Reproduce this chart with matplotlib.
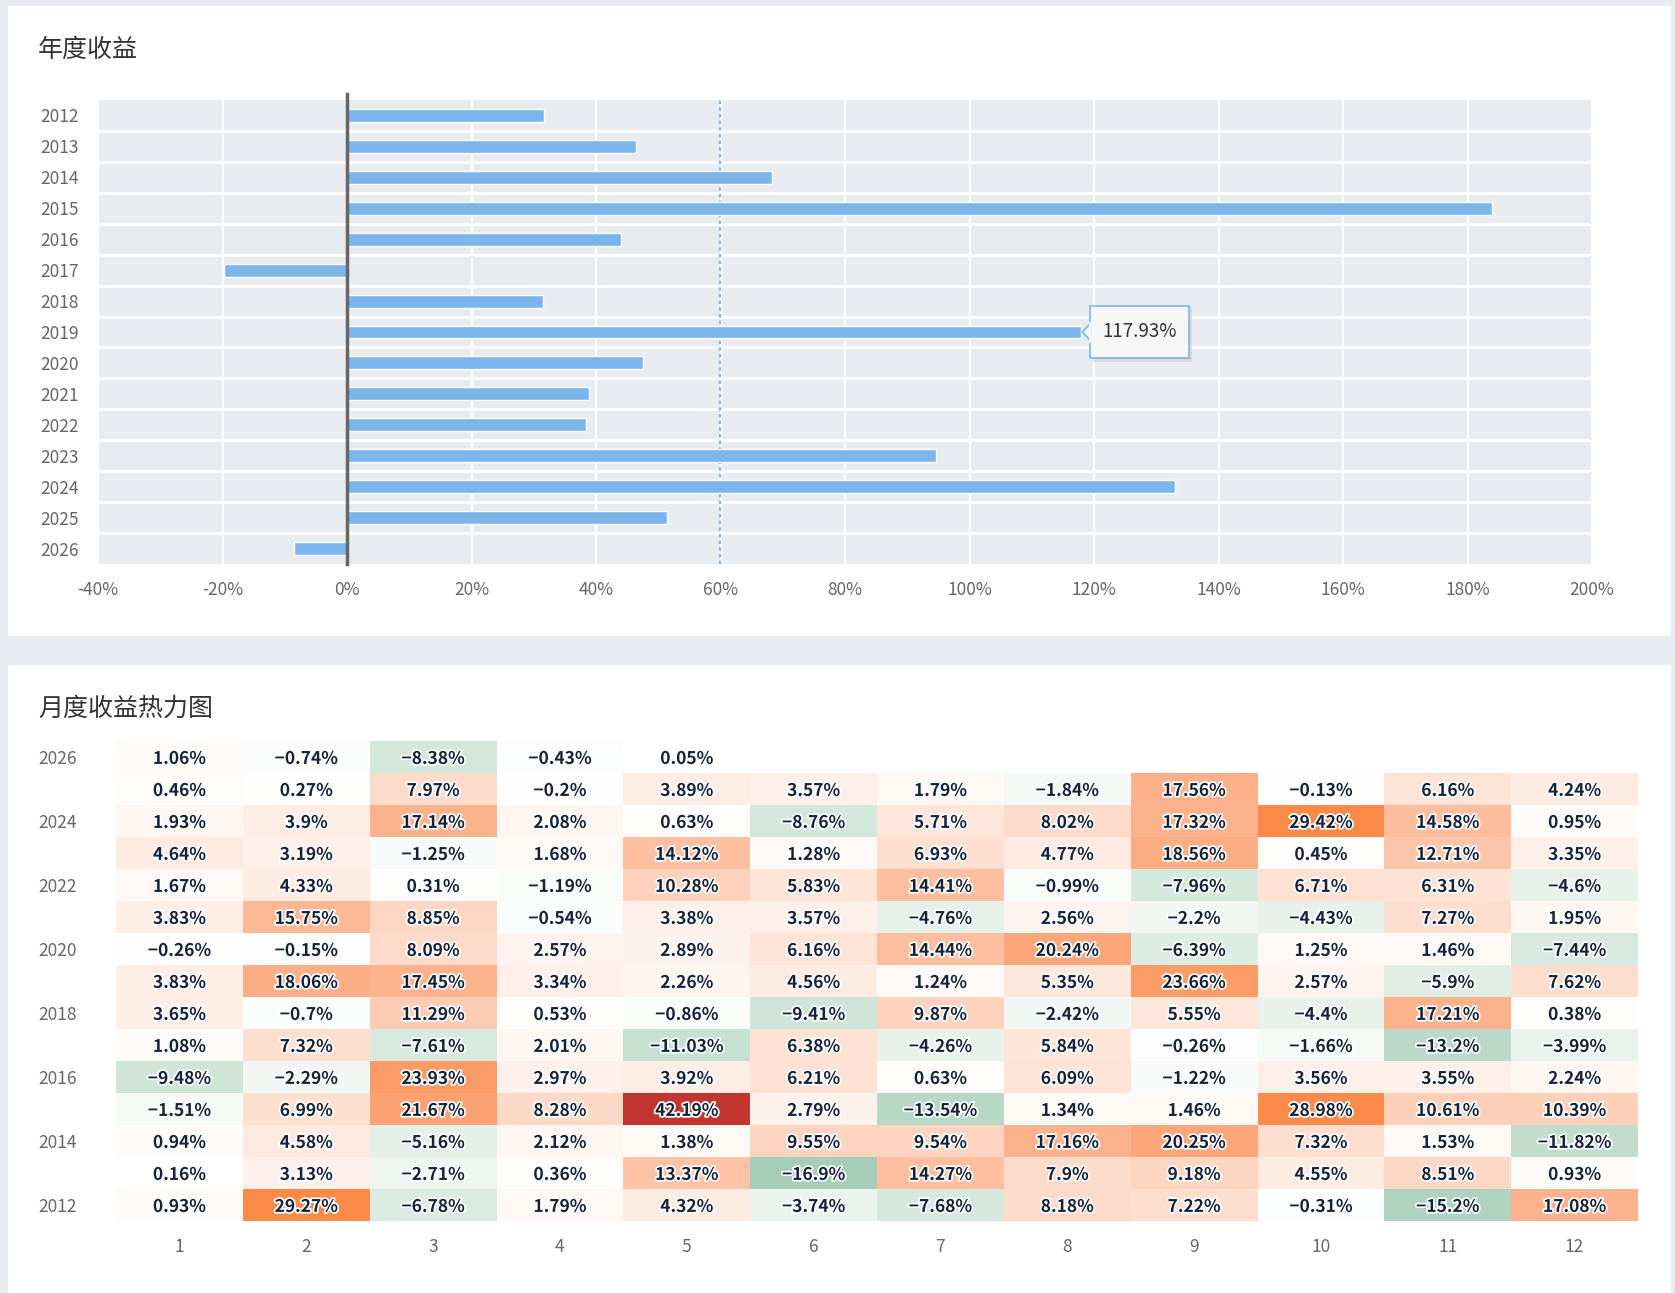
import numpy as np
import matplotlib
matplotlib.use("Agg")
import matplotlib.pyplot as plt
from matplotlib.colors import LinearSegmentedColormap, Normalize
from matplotlib.patches import Rectangle, FancyBboxPatch, Polygon
import matplotlib.patheffects as pe

plt.rcParams['font.family'] = ['Noto Sans CJK SC', 'DejaVu Sans']

# ---- data ----
years = [2012, 2013, 2014, 2015, 2016, 2017, 2018, 2019, 2020, 2021, 2022, 2023, 2024, 2025, 2026]
annual = [31.7, 46.4, 68.3, 184.0, 44.0, -19.8, 31.5, 117.93, 47.5, 38.9, 38.4, 94.6, 133.0, 51.4, -8.44]
tooltip_year = 2019

months = list(range(1, 13))
nan = np.nan
m2012 = [0.93, 29.27, -6.78, 1.79, 4.32, -3.74, -7.68, 8.18, 7.22, -0.31, -15.2, 17.08]
m2013 = [0.16, 3.13, -2.71, 0.36, 13.37, -16.9, 14.27, 7.9, 9.18, 4.55, 8.51, 0.93]
m2014 = [0.94, 4.58, -5.16, 2.12, 1.38, 9.55, 9.54, 17.16, 20.25, 7.32, 1.53, -11.82]
m2015 = [-1.51, 6.99, 21.67, 8.28, 42.19, 2.79, -13.54, 1.34, 1.46, 28.98, 10.61, 10.39]
m2016 = [-9.48, -2.29, 23.93, 2.97, 3.92, 6.21, 0.63, 6.09, -1.22, 3.56, 3.55, 2.24]
m2017 = [1.08, 7.32, -7.61, 2.01, -11.03, 6.38, -4.26, 5.84, -0.26, -1.66, -13.2, -3.99]
m2018 = [3.65, -0.7, 11.29, 0.53, -0.86, -9.41, 9.87, -2.42, 5.55, -4.4, 17.21, 0.38]
m2019 = [3.83, 18.06, 17.45, 3.34, 2.26, 4.56, 1.24, 5.35, 23.66, 2.57, -5.9, 7.62]
m2020 = [-0.26, -0.15, 8.09, 2.57, 2.89, 6.16, 14.44, 20.24, -6.39, 1.25, 1.46, -7.44]
m2021 = [3.83, 15.75, 8.85, -0.54, 3.38, 3.57, -4.76, 2.56, -2.2, -4.43, 7.27, 1.95]
m2022 = [1.67, 4.33, 0.31, -1.19, 10.28, 5.83, 14.41, -0.99, -7.96, 6.71, 6.31, -4.6]
m2023 = [4.64, 3.19, -1.25, 1.68, 14.12, 1.28, 6.93, 4.77, 18.56, 0.45, 12.71, 3.35]
m2024 = [1.93, 3.9, 17.14, 2.08, 0.63, -8.76, 5.71, 8.02, 17.32, 29.42, 14.58, 0.95]
m2025 = [0.46, 0.27, 7.97, -0.2, 3.89, 3.57, 1.79, -1.84, 17.56, -0.13, 6.16, 4.24]
m2026 = [1.06, -0.74, -8.38, -0.43, 0.05, nan, nan, nan, nan, nan, nan, nan]
monthly = np.array([m2012, m2013, m2014, m2015, m2016, m2017, m2018, m2019,
                    m2020, m2021, m2022, m2023, m2024, m2025, m2026])

# colour stops of the heatmap scale
stop_vals = [-16.9, -15.2, -8.38, -3.0, 0, 10, 20, 29.4, 42.19]
stop_cols = ['#a5cdb8', '#b0d3c0', '#d5e8dc', '#eef5f0', '#ffffff', '#fdd2bc', '#fca77b', '#fb8a48', '#c23531']

W, H = 1675, 1293
fig = plt.figure(figsize=(W / 100, H / 100), dpi=100)
fig.patch.set_facecolor('#e8ebf0')

def box(x0, y0, x1, y1):
    return [x0 / W, 1 - y1 / H, (x1 - x0) / W, (y1 - y0) / H]

# white panels
for (x0, y0, x1, y1) in [(8, 6, 1671, 636), (8, 665, 1671, 1300)]:
    b = box(x0, y0, x1, y1)
    fig.patches.append(Rectangle((b[0], b[1]), b[2], b[3], transform=fig.transFigure,
                                 facecolor='white', edgecolor='none', zorder=-5))

fig.text(38 / W, 1 - 50 / H, '年度收益', fontsize=18, color='#333333', va='center', ha='left')
fig.text(38 / W, 1 - 709 / H, '月度收益热力图', fontsize=18, color='#333333', va='center', ha='left')

# ---- annual bar chart ----
ax1 = fig.add_axes(box(98, 100, 1592, 564))
ax1.set_facecolor('#e8ebf0')
pos = np.arange(len(years))
ax1.barh(pos, annual, height=0.42, color='#7cb5ec', edgecolor='white', linewidth=1, zorder=3)
ax1.set_xlim(-40, 200)
ax1.set_ylim(len(years) - 0.5, -0.5)
xt = np.arange(-40, 201, 20)
ax1.set_xticks(xt)
ax1.set_xticklabels([f'{v}%' for v in xt])
ax1.set_yticks(pos)
ax1.set_yticklabels([str(y) for y in years])
for v in xt:
    ax1.axvline(v, color='white', lw=1.5, zorder=1)
for i in range(len(years) - 1):
    ax1.axhline(i + 0.5, color='white', lw=2, zorder=1)
ax1.plot([0, 0], [len(years) - 0.5, -0.7], color='#666666', lw=2.5, zorder=4, clip_on=False)
ax1.axvline(np.mean(annual), color='#7cb5ec', lw=1.6, ls=(0, (1.5, 1.5)), zorder=2)
for s in ax1.spines.values():
    s.set_visible(False)
ax1.tick_params(length=0, labelsize=12.5, labelcolor='#666666')
ax1.tick_params(axis='x', pad=12)
ax1.tick_params(axis='y', pad=14)

# tooltip
ti = years.index(tooltip_year)
tv = annual[ti]
bx0, bw, bh = tv + 1.5, 15.9, 1.7
ax1.add_patch(FancyBboxPatch((bx0 + 0.35, ti - bh / 2 + 0.12), bw, bh, boxstyle='square,pad=0',
                             fc='#cccccc', ec='none', alpha=0.6, zorder=5, clip_on=False))
ax1.add_patch(FancyBboxPatch((bx0, ti - bh / 2), bw, bh, boxstyle='square,pad=0',
                             fc='#f7f7f7', ec='#7cb5ec', lw=1.2, zorder=6, clip_on=False))
ax1.add_patch(Polygon([[bx0 + 0.1, ti - 0.3], [tv + 0.2, ti], [bx0 + 0.1, ti + 0.3]],
                      closed=True, fc='#f7f7f7', ec='#7cb5ec', lw=1.2, zorder=7, clip_on=False))
ax1.plot([bx0, bx0], [ti - 0.28, ti + 0.28], color='#f7f7f7', lw=2, zorder=8)
ax1.text(bx0 + bw / 2, ti, f'{tv:.2f}%', ha='center', va='center', fontsize=13.5,
         color='#333333', zorder=9)

# ---- monthly heatmap ----
ax2 = fig.add_axes(box(116, 741, 1638, 1221))
sv = np.array(stop_vals)
cmap = LinearSegmentedColormap.from_list('ret', list(zip((sv - sv[0]) / (sv[-1] - sv[0]), stop_cols)))
norm = Normalize(vmin=sv[0], vmax=sv[-1])

masked = np.ma.masked_invalid(monthly)
ax2.pcolormesh(np.arange(13), np.arange(len(years) + 1), masked, cmap=cmap, norm=norm,
               edgecolor='none')
ax2.set_xlim(0, 12)
ax2.set_ylim(0, len(years))
for r in range(len(years)):
    for c in range(12):
        v = monthly[r, c]
        if np.isnan(v):
            continue
        s = f'{v:g}%'.replace('-', '−')
        ax2.text(c + 0.5, r + 0.44, s, ha='center', va='center', fontsize=12.5,
                 fontweight='bold', color='#15233a',
                 path_effects=[pe.withStroke(linewidth=2.5, foreground='white')])
ax2.set_xticks(np.arange(12) + 0.5)
ax2.set_xticklabels([str(m) for m in months])
ax2.set_yticks(np.arange(0, len(years), 2) + 0.5)
ax2.set_yticklabels([str(years[i]) for i in range(0, len(years), 2)])
for s in ax2.spines.values():
    s.set_visible(False)
ax2.tick_params(length=0, labelsize=12.5, labelcolor='#666666')
ax2.tick_params(axis='x', pad=12)
ax2.tick_params(axis='y', pad=28)

fig.savefig('out.png', dpi=100, facecolor=fig.get_facecolor())
